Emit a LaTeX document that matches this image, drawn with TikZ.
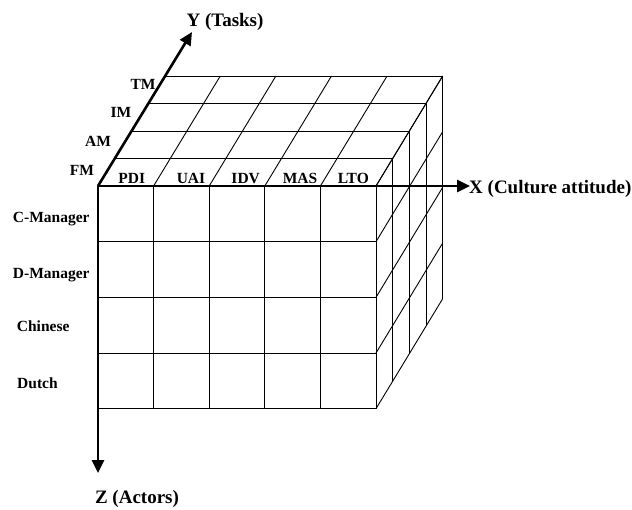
\documentclass[tikz,border=0pt]{standalone}
\usepackage{fontspec}
\setmainfont{Liberation Serif}
\usetikzlibrary{arrows.meta}
\begin{document}
\begin{tikzpicture}[x=1pt,y=-1pt,
  grid/.style={line width=0.9pt,black},
  axis/.style={line width=2.6pt,-{Triangle[length=13pt,width=12pt]}},
  lab/.style={font=\fontsize{15.5}{18}\selectfont\bfseries,inner sep=0pt},
  axlab/.style={font=\fontsize{19}{22}\selectfont\bfseries,inner sep=0pt}]
\useasboundingbox (0,0) rectangle (632,509);
\def\dx{16.67}
\def\dy{-27.5}
% front face
\foreach \i in {0,...,5} \draw[grid] (98+55.6*\i,186) -- (98+55.6*\i,408.7);
\foreach \j in {0,...,4} \draw[grid] (98,186+55.675*\j) -- (376,186+55.675*\j);
% top face
\foreach \k in {1,...,4} \draw[grid] (98+\dx*\k,186+\dy*\k) -- (376+\dx*\k,186+\dy*\k);
\foreach \i in {0,...,5} \draw[grid] (98+55.6*\i,186) -- ++(4*\dx,4*\dy);
% right face
\foreach \k in {1,...,4} \draw[grid] (376+\dx*\k,186+\dy*\k) -- ++(0,222.7);
\foreach \j in {0,...,4} \draw[grid] (376,186+55.675*\j) -- ++(4*\dx,4*\dy);
% axes
\coordinate (O) at (98,186);
\coordinate (xt) at (470,186);
\coordinate (yt) at (192,32);
\coordinate (zt) at (98,473);
\draw[axis] (O) -- (xt);
\draw[axis] (O) -- (yt);
\draw[axis] (O) -- (zt);
% axis labels
\node[axlab,anchor=base west] (xl) at (469,193) {X (Culture attitude)};
\node[axlab,anchor=base] (yl) at (225,26) {Y (Tasks)};
\node[axlab,anchor=base] (zl) at (137,503) {Z (Actors)};
% task labels
\node[lab,anchor=base] (tm) at (143,89.3) {TM};
\node[lab,anchor=base] (im) at (121,117.3) {IM};
\node[lab,anchor=base] (am) at (98,146) {AM};
\node[lab,anchor=base] (fm) at (82,175) {FM};
% culture labels
\node[lab,anchor=base] (pdi) at (131.7,183.3) {PDI};
\node[lab,anchor=base] (uai) at (191,183.3) {UAI};
\node[lab,anchor=base] (idv) at (245.7,183.3) {IDV};
\node[lab,anchor=base] (mas) at (300,183.3) {MAS};
\node[lab,anchor=base] (lto) at (353.3,183.3) {LTO};
% actor labels
\node[lab,anchor=base west] (cm) at (12.7,222.7) {C-Manager};
\node[lab,anchor=base west] (dm) at (12.7,278.3) {D-Manager};
\node[lab,anchor=base west] (ch) at (16.7,331.7) {Chinese};
\node[lab,anchor=base west] (du) at (17,388.3) {Dutch};
\end{tikzpicture}
\end{document}
